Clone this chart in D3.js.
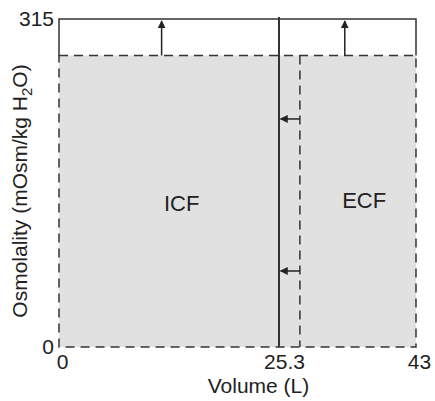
<!DOCTYPE html>
<html>
<head>
<meta charset="utf-8">
<script src="https://cdn.jsdelivr.net/npm/d3@7"></script>
<style>
  body { margin: 0; background: #fff; }
  text { font-family: "Liberation Sans", Arial, sans-serif; fill: #222; }
</style>
</head>
<body>
<svg id="chart"></svg>
<script>
// values
var xTicks = [0, 25.3, 43];
var yTicks = [0, 315];
var totalVolume = 43;
var icfNew = 25.3;          // ICF volume after the shift (solid line)
var icfOld = 28;            // original ICF / ECF boundary (dashed line)
var oldOsm = 280;           // original osmolality (dashed top)
var newOsm = 315;           // new osmolality (solid top)
var upArrows = [{ x: 11.8, from: 280, to: 313 }, { x: 33.8, from: 280, to: 313 }];
var leftArrows = [{ y: 219, from: 28, to: 25.5 }, { y: 73, from: 28, to: 25.5 }];
var compartments = [{ name: "ICF", x: 14.1, y: 138 }, { name: "ECF", x: 36.3, y: 141 }];

var margin = { top: 19, right: 19, bottom: 54, left: 59 },
    width = 435 - margin.left - margin.right,
    height = 401 - margin.top - margin.bottom;

// schematic axis: not drawn to one scale, so a piecewise linear scale
var x = d3.scaleLinear().domain([0, icfNew, totalVolume]).range([0, 220, width]);
var y = d3.scaleLinear().domain([0, newOsm]).range([height, 0]);

var svg = d3.select("#chart")
    .attr("width", 435)
    .attr("height", 401);

var defs = svg.append("defs");
defs.append("marker")
    .attr("id", "head")
    .attr("viewBox", "0 0 10 10")
    .attr("refX", 9)
    .attr("refY", 5)
    .attr("markerWidth", 8)
    .attr("markerHeight", 8)
    .attr("markerUnits", "userSpaceOnUse")
    .attr("orient", "auto")
    .append("path")
    .attr("d", "M0,0L10,5L0,10z")
    .attr("fill", "#222");

var g = svg.append("g")
    .attr("transform", "translate(" + margin.left + "," + margin.top + ")");

var ink = "#333";
var dash = "9,6";

// grey original compartment
g.append("rect")
    .attr("x", x(0))
    .attr("y", y(oldOsm))
    .attr("width", x(totalVolume) - x(0))
    .attr("height", y(0) - y(oldOsm))
    .attr("fill", "#e1e1e1");

// dashed outline of original state
g.append("rect")
    .attr("x", x(0))
    .attr("y", y(oldOsm))
    .attr("width", x(totalVolume) - x(0))
    .attr("height", y(0) - y(oldOsm))
    .attr("fill", "none")
    .attr("stroke", ink)
    .attr("stroke-width", 1.5)
    .attr("stroke-dasharray", dash);

g.append("line")
    .attr("x1", x(icfOld)).attr("x2", x(icfOld))
    .attr("y1", y(oldOsm)).attr("y2", y(0))
    .attr("stroke", ink)
    .attr("stroke-width", 1.5)
    .attr("stroke-dasharray", dash);

// solid new state
g.append("path")
    .attr("d", "M" + x(0) + "," + y(oldOsm) + "V" + y(newOsm) + "H" + x(totalVolume) + "V" + y(oldOsm))
    .attr("fill", "none")
    .attr("stroke", ink)
    .attr("stroke-width", 1.5);

g.append("line")
    .attr("x1", x(icfNew)).attr("x2", x(icfNew))
    .attr("y1", y(newOsm) - 2).attr("y2", y(0))
    .attr("stroke", ink)
    .attr("stroke-width", 2);

// arrows
g.selectAll(".up")
    .data(upArrows)
    .enter()
    .append("line")
    .attr("class", "up")
    .attr("x1", function (d) { return x(d.x); })
    .attr("x2", function (d) { return x(d.x); })
    .attr("y1", function (d) { return y(d.from); })
    .attr("y2", function (d) { return y(d.to); })
    .attr("stroke", "#222")
    .attr("stroke-width", 1.5)
    .attr("marker-end", "url(#head)");

g.selectAll(".left")
    .data(leftArrows)
    .enter()
    .append("line")
    .attr("class", "left")
    .attr("x1", function (d) { return x(d.from); })
    .attr("x2", function (d) { return x(d.to); })
    .attr("y1", function (d) { return y(d.y); })
    .attr("y2", function (d) { return y(d.y); })
    .attr("stroke", "#222")
    .attr("stroke-width", 1.5)
    .attr("marker-end", "url(#head)");

// compartment labels
g.selectAll(".comp")
    .data(compartments)
    .enter()
    .append("text")
    .attr("class", "comp")
    .attr("x", function (d) { return x(d.x); })
    .attr("y", function (d) { return y(d.y); })
    .attr("text-anchor", "middle")
    .attr("dy", "0.35em")
    .style("font-size", "22px")
    .text(function (d) { return d.name; });

// axes, ticks hidden
var xAxis = d3.axisBottom(x).tickValues(xTicks).tickSize(0).tickPadding(7)
    .tickFormat(function (d) { return String(d); });
var yAxis = d3.axisLeft(y).tickValues(yTicks).tickSize(0).tickPadding(5)
    .tickFormat(function (d) { return String(d); });

var gx = g.append("g")
    .attr("transform", "translate(0," + height + ")")
    .call(xAxis);
gx.select(".domain").remove();
gx.selectAll("text").style("font-size", "21px").attr("fill", "#222")
    .attr("dx", function (d, i) { return i === 0 ? 3 : (i === 2 ? 3 : 5); });

var gy = g.append("g").call(yAxis);
gy.select(".domain").remove();
gy.selectAll("text").style("font-size", "21px").attr("fill", "#222");

g.append("text")
    .attr("x", width / 2 + 21)
    .attr("y", height + 46)
    .attr("text-anchor", "middle")
    .style("font-size", "21px")
    .text("Volume (L)");

var yl = g.append("text")
    .attr("transform", "translate(-32," + (height / 2 + 8) + ") rotate(-90)")
    .attr("text-anchor", "middle")
    .style("font-size", "21px");
yl.append("tspan").text("Osmolality (mOsm/kg H");
yl.append("tspan").text("2").attr("dy", 5).style("font-size", "15px");
yl.append("tspan").text("O)").attr("dy", -5);
</script>
</body>
</html>
